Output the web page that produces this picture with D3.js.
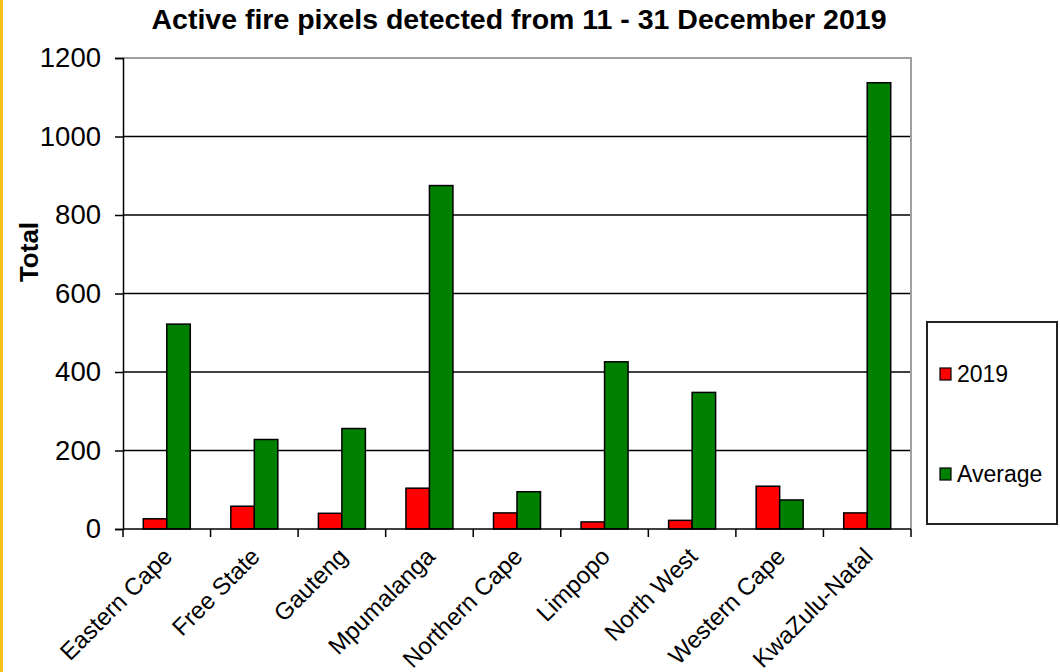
<!DOCTYPE html>
<html>
<head>
<meta charset="utf-8">
<script src="https://cdn.jsdelivr.net/npm/d3@7"></script>
<style>
  body { margin: 0; background: #fff; }
  svg text { font-family: "Liberation Sans", Arial, sans-serif; fill: #000; }
</style>
</head>
<body>
<div id="chart"></div>
<script>
var categories = ['Eastern Cape', 'Free State', 'Gauteng', 'Mpumalanga', 'Northern Cape',
                  'Limpopo', 'North West', 'Western Cape', 'KwaZulu-Natal'];
var series = ['2019', 'Average'];
var values2019 = [26, 58, 40, 104, 41, 18, 22, 109, 41];
var valuesAverage = [522, 228, 256, 875, 95, 426, 348, 74, 1137];
var yTicks = [0, 200, 400, 600, 800, 1000, 1200];
var colors = ['#ff0000', '#008000'];

(function() {
  var width = 1060, height = 672;
  var pLeft = 123, pRight = 911, pTop = 58, pBottom = 529;

  var svg = d3.select('#chart').append('svg')
    .attr('width', width)
    .attr('height', height);

  // yellow strip on the left edge
  svg.append('rect')
    .attr('x', 0).attr('y', 0)
    .attr('width', 3).attr('height', height)
    .attr('fill', '#f7c21b');

  var y = d3.scaleLinear().domain([0, 1200]).range([pBottom, pTop]);
  var xCat = d3.scaleBand().domain(categories).range([pLeft, pRight]);
  var pairW = 47;
  var xSer = d3.scaleBand().domain(series).range([0, pairW]);

  // gridlines
  svg.append('g')
    .selectAll('line')
    .data(yTicks.filter(function(d) { return d > 0 && d < 1200; }))
    .enter().append('line')
    .attr('x1', pLeft).attr('x2', pRight)
    .attr('y1', function(d) { return y(d); })
    .attr('y2', function(d) { return y(d); })
    .attr('stroke', '#000')
    .attr('stroke-width', 1.5);

  // plot border top / right (grey)
  svg.append('path')
    .attr('d', 'M' + pLeft + ',' + y(1200) + 'H' + pRight + 'V' + pBottom)
    .attr('fill', 'none')
    .attr('stroke', '#a0a0a0')
    .attr('stroke-width', 2);

  // bars
  var data = categories.map(function(c, i) {
    return { cat: c, vals: [values2019[i], valuesAverage[i]] };
  });

  var groups = svg.append('g').selectAll('g')
    .data(data)
    .enter().append('g')
    .attr('transform', function(d) {
      return 'translate(' + (xCat(d.cat) + (xCat.bandwidth() - pairW) / 2) + ',0)';
    });

  groups.selectAll('rect')
    .data(function(d) { return d.vals.map(function(v, j) { return { s: series[j], v: v, j: j }; }); })
    .enter().append('rect')
    .attr('x', function(d) { return xSer(d.s); })
    .attr('width', xSer.bandwidth())
    .attr('y', function(d) { return y(d.v); })
    .attr('height', function(d) { return y(0) - y(d.v); })
    .attr('fill', function(d) { return colors[d.j]; })
    .attr('stroke', '#000')
    .attr('stroke-width', 1.5);

  // y axis
  var yAxis = d3.axisLeft(y).tickValues(yTicks).tickFormat(d3.format('d')).tickSize(8).tickPadding(14);
  var gy = svg.append('g')
    .attr('transform', 'translate(' + pLeft + ',0)')
    .call(yAxis);
  gy.select('.domain').attr('stroke', '#000').attr('stroke-width', 1.5);
  gy.selectAll('.tick line').attr('stroke', '#000').attr('stroke-width', 1.5);
  gy.selectAll('.tick text')
    .style('font-size', '27.5px')
    .style('font-family', '"Liberation Sans", Arial, sans-serif')
    .attr('fill', '#222');

  // x axis
  svg.append('line')
    .attr('x1', pLeft).attr('x2', pRight)
    .attr('y1', pBottom).attr('y2', pBottom)
    .attr('stroke', '#000').attr('stroke-width', 1.5);

  var bounds = categories.map(function(c) { return xCat(c); }).concat([pRight]);
  svg.append('g').selectAll('line')
    .data(bounds)
    .enter().append('line')
    .attr('x1', function(d) { return d; }).attr('x2', function(d) { return d; })
    .attr('y1', pBottom).attr('y2', pBottom + 8)
    .attr('stroke', '#000').attr('stroke-width', 1.5);

  svg.append('g').selectAll('text')
    .data(categories)
    .enter().append('text')
    .attr('transform', function(d) {
      return 'translate(' + (xCat(d) + xCat.bandwidth() / 2 + 1) + ',' + (pBottom + 23) + ') rotate(-45)';
    })
    .attr('text-anchor', 'end')
    .attr('dy', '0.35em')
    .style('font-size', '24px')
    .attr('fill', '#222')
    .text(function(d) { return d; });

  // title
  svg.append('text')
    .attr('x', 519).attr('y', 29)
    .attr('text-anchor', 'middle')
    .style('font-size', '28.5px')
    .style('font-weight', 'bold')
    .text('Active fire pixels detected from 11 - 31 December 2019');

  // y label
  svg.append('text')
    .attr('transform', 'translate(38,252) rotate(-90)')
    .attr('text-anchor', 'middle')
    .style('font-size', '26px')
    .style('font-weight', 'bold')
    .text('Total');

  // legend
  var legend = svg.append('g');
  legend.append('rect')
    .attr('x', 927).attr('y', 322)
    .attr('width', 130).attr('height', 202)
    .attr('fill', '#fff')
    .attr('stroke', '#222')
    .attr('stroke-width', 2);

  var legendY = [374, 474];
  series.forEach(function(s, i) {
    legend.append('rect')
      .attr('x', 940).attr('y', legendY[i] - 6)
      .attr('width', 11).attr('height', 12)
      .attr('fill', colors[i])
      .attr('stroke', '#000')
      .attr('stroke-width', 1.2);
    legend.append('text')
      .attr('x', 957).attr('y', legendY[i])
      .attr('dy', '0.36em')
      .style('font-size', '23px')
      .attr('fill', '#222')
      .text(s);
  });
})();
</script>
</body>
</html>
